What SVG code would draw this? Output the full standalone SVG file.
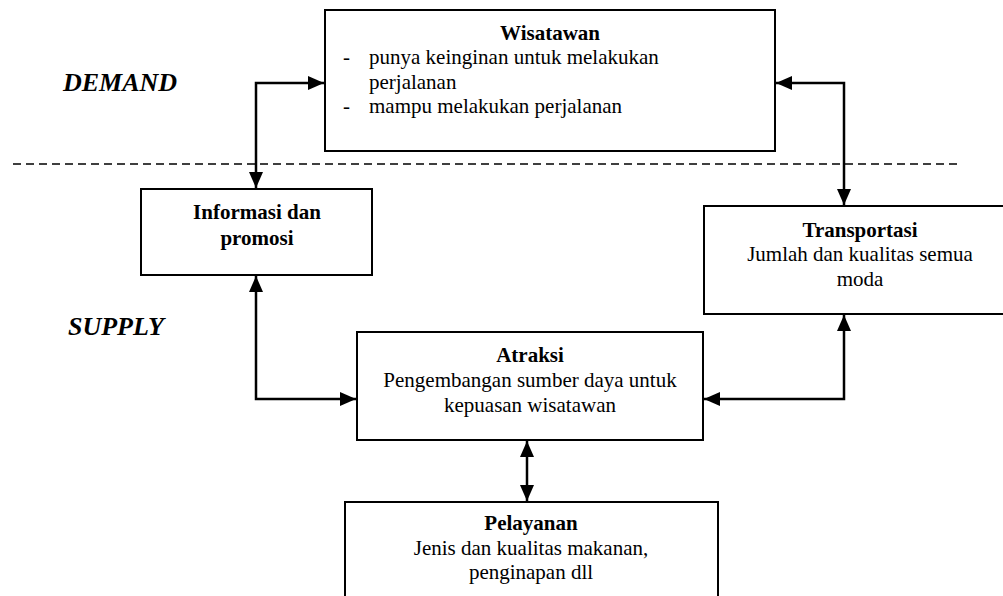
<svg xmlns="http://www.w3.org/2000/svg" width="1003" height="596" viewBox="0 0 1003 596">
<defs>
<style>
.box{fill:#fff;stroke:#000;stroke-width:2}
.t{font-family:"Liberation Serif","Times New Roman",serif;font-size:21px;fill:#000}
.b{font-weight:bold}
.c{text-anchor:middle}
.lbl{font-family:"Liberation Serif","Times New Roman",serif;font-size:26px;font-weight:bold;font-style:italic;fill:#000}
.conn{fill:none;stroke:#000;stroke-width:2.5}
.dash{fill:none;stroke:#000;stroke-width:1.5;stroke-dasharray:8 5}
</style>
<marker id="ah" markerUnits="userSpaceOnUse" markerWidth="16" markerHeight="16" viewBox="0 0 16 16" refX="16" refY="8" orient="auto-start-reverse">
<path d="M0,1 L16,8 L0,15 Z" fill="#000"/>
</marker>
</defs>
<rect width="1003" height="596" fill="#fff"/>
<text class="lbl" x="63" y="91">DEMAND</text>
<text class="lbl" x="68" y="335">SUPPLY</text>
<line class="dash" x1="13" y1="164" x2="962" y2="164"/>
<g id="wisatawan">
<rect class="box" x="325" y="10" width="450" height="141"/>
<text class="t b c" x="550" y="40">Wisatawan</text>
<text class="t" x="343" y="64">-</text>
<text class="t" x="369" y="64">punya keinginan untuk melakukan</text>
<text class="t" x="369" y="89">perjalanan</text>
<text class="t" x="343" y="113">-</text>
<text class="t" x="369" y="113">mampu melakukan perjalanan</text>
</g>
<g id="informasi">
<rect class="box" x="141" y="189" width="231" height="86"/>
<text class="t b c" x="257" y="219">Informasi dan</text>
<text class="t b c" x="257" y="245">promosi</text>
</g>
<g id="transportasi">
<rect class="box" x="704" y="206" width="312" height="108"/>
<text class="t b c" x="860" y="237">Transportasi</text>
<text class="t c" x="860" y="261">Jumlah dan kualitas semua</text>
<text class="t c" x="860" y="286">moda</text>
</g>
<g id="atraksi">
<rect class="box" x="357" y="332" width="346" height="108"/>
<text class="t b c" x="530" y="362">Atraksi</text>
<text class="t c" x="530" y="387">Pengembangan sumber daya untuk</text>
<text class="t c" x="530" y="412">kepuasan wisatawan</text>
</g>
<g id="pelayanan">
<rect class="box" x="345" y="502" width="373" height="110"/>
<text class="t b c" x="531" y="530">Pelayanan</text>
<text class="t c" x="531" y="555">Jenis dan kualitas makanan,</text>
<text class="t c" x="531" y="579">penginapan dll</text>
</g>
<g id="connectors">
<path class="conn" d="M256,188 L256,83 L324,83" marker-start="url(#ah)" marker-end="url(#ah)"/>
<path class="conn" d="M776,83 L844,83 L844,205" marker-start="url(#ah)" marker-end="url(#ah)"/>
<path class="conn" d="M256,276 L256,399 L356,399" marker-start="url(#ah)" marker-end="url(#ah)"/>
<path class="conn" d="M844,315 L844,399 L704,399" marker-start="url(#ah)" marker-end="url(#ah)"/>
<path class="conn" d="M527,441 L527,501" marker-start="url(#ah)" marker-end="url(#ah)"/>
</g>
</svg>
